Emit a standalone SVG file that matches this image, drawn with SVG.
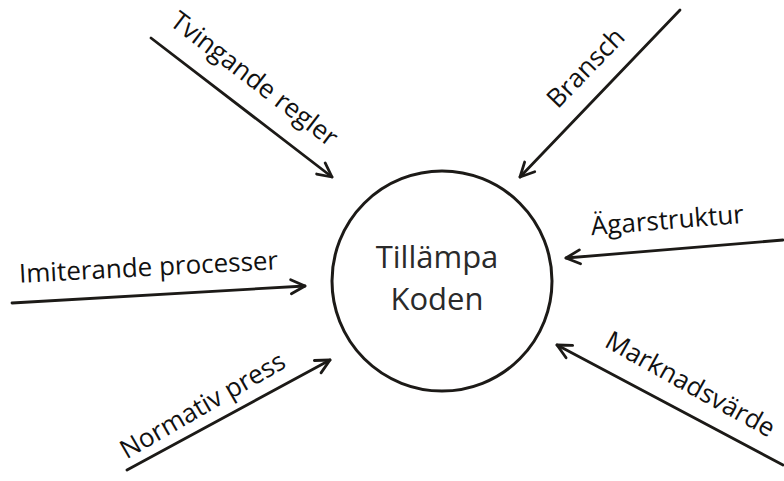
<svg xmlns="http://www.w3.org/2000/svg" width="784" height="481" viewBox="0 0 784 481">
  <defs>
    <marker id="arr" markerUnits="userSpaceOnUse" markerWidth="30" markerHeight="30" viewBox="-20 -15 30 30" refX="0" refY="0" orient="auto">
      <path d="M-14,-7 L0,0 L-14,7" fill="none" stroke="#1c1a17" stroke-width="2.8" stroke-linecap="round" stroke-linejoin="round"/>
    </marker>
  </defs>
  <style>
    .conn { stroke: #1c1a17; stroke-width: 2.8; fill: none; stroke-linecap: round; marker-end: url(#arr); }
    .lbl { font-family: "Open Sans", "Liberation Sans", sans-serif; font-size: 26px; font-weight: 500; fill: #111; text-anchor: middle; }
    .center { font-family: "Open Sans", "Liberation Sans", sans-serif; font-size: 31px; fill: #2a2a2a; text-anchor: middle; }
  </style>
  <rect width="784" height="481" fill="#fff"/>
  <g id="connectors">
    <line class="conn" x1="151" y1="38" x2="332" y2="177"/>
    <line class="conn" x1="680" y1="10" x2="520" y2="177"/>
    <line class="conn" x1="12" y1="303" x2="305" y2="286"/>
    <line class="conn" x1="783" y1="240" x2="566" y2="258"/>
    <line class="conn" x1="127" y1="470" x2="330" y2="360"/>
    <line class="conn" x1="783" y1="465" x2="557" y2="345"/>
  </g>
  <g id="node-tillampa">
    <circle cx="442" cy="281" r="110" fill="#fff" stroke="#1c1a17" stroke-width="3"/>
    <text class="center" x="437" y="268">Tillämpa</text>
    <text class="center" x="437" y="310">Koden</text>
  </g>
  <g id="label-tvingande">
    <text class="lbl" transform="translate(249,86) rotate(37.5)">Tvingande regler</text>
  </g>
  <g id="label-bransch">
    <text class="lbl" transform="translate(592,74) rotate(-46)">Bransch</text>
  </g>
  <g id="label-imiterande">
    <text class="lbl" transform="translate(149,276) rotate(-3)">Imiterande processer</text>
  </g>
  <g id="label-agarstruktur">
    <text class="lbl" transform="translate(668,229) rotate(-4.6)">Ägarstruktur</text>
  </g>
  <g id="label-normativ">
    <text class="lbl" transform="translate(207,413) rotate(-30)">Normativ press</text>
  </g>
  <g id="label-marknadsvarde">
    <text class="lbl" transform="translate(686,392) rotate(29)">Marknadsvärde</text>
  </g>
</svg>
